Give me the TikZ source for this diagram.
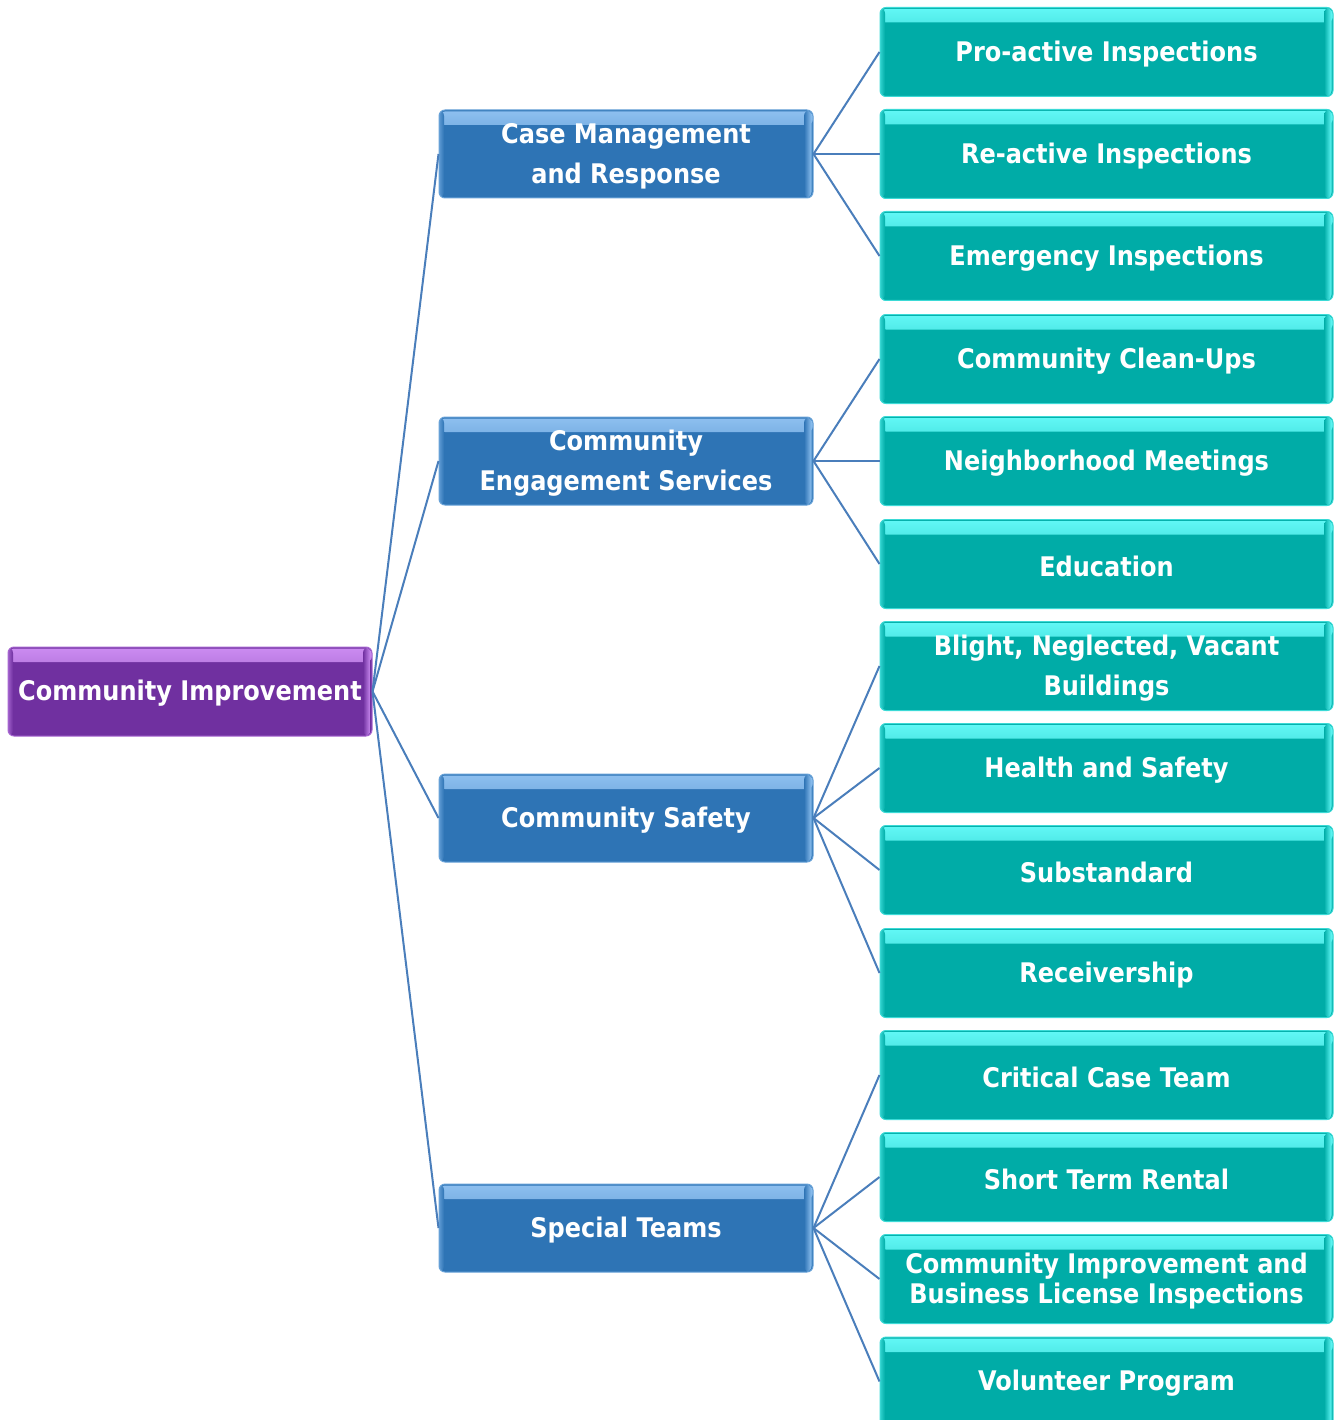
\documentclass[tikz,border=0pt]{standalone}
\usepackage{fontspec}
\newfontfamily\boxfont{DejaVu Sans}[FakeStretch=0.89]
\definecolor{tealmain}{HTML}{00ACA7}
\definecolor{teallight}{HTML}{62F8F6}
\definecolor{bluemain}{HTML}{2E74B5}
\definecolor{bluelight}{HTML}{8EC0F0}
\definecolor{purpmain}{HTML}{7030A0}
\definecolor{purplight}{HTML}{CC8CF2}
\definecolor{linkcol}{HTML}{4A7EBB}
\tikzset{
  bevel/.style 2 args={rectangle, rounded corners=6pt, inner sep=0pt,
    fill=#1, draw=#2!60!#1, line width=1pt,
    path picture={
      \shade[top color=#2, bottom color=#1]
        ([yshift=-1.5pt]path picture bounding box.north west) rectangle
        ([yshift=-15pt]path picture bounding box.north east);
      \shade[left color=#1, right color=#2]
        ([xshift=-9pt]path picture bounding box.north east) rectangle
        ([xshift=-1.5pt]path picture bounding box.south east);
      \shade[left color=#2!50!#1, right color=#1]
        (path picture bounding box.north west) rectangle
        ([xshift=5pt]path picture bounding box.south west);
    }},
  rootbox/.style={bevel={purpmain}{purplight}, minimum width=364pt, minimum height=89pt},
  midbox/.style={bevel={bluemain}{bluelight}, minimum width=374pt, minimum height=88pt},
  leafbox/.style={bevel={tealmain}{teallight}, minimum width=453pt, minimum height=89pt},
  lbl/.style={inner sep=0pt, align=center, text=white, yshift=-2pt,
    font=\boxfont\bfseries\fontsize{27}{40}\selectfont},
  tightlbl/.style={lbl, font=\boxfont\bfseries\fontsize{27}{30}\selectfont},
  link/.style={draw=linkcol, line width=2pt}
}
\begin{document}
\begin{tikzpicture}[x=1pt,y=-1pt]
\useasboundingbox (0,0) rectangle (1335,1420);
\clip (0,0) rectangle (1335,1420);
\node[rootbox] (root) at (190,691.5) {};
\node[midbox] (cm) at (626,154) {};
\node[midbox] (ce) at (626,461) {};
\node[midbox] (cs) at (626,818) {};
\node[midbox] (st) at (626,1228) {};
\node[leafbox] (l1) at (1106.5,52) {};
\node[leafbox] (l2) at (1106.5,154) {};
\node[leafbox] (l3) at (1106.5,256) {};
\node[leafbox] (l4) at (1106.5,359) {};
\node[leafbox] (l5) at (1106.5,461) {};
\node[leafbox] (l6) at (1106.5,564) {};
\node[leafbox] (l7) at (1106.5,666) {};
\node[leafbox] (l8) at (1106.5,768) {};
\node[leafbox] (l9) at (1106.5,870) {};
\node[leafbox] (l10) at (1106.5,973) {};
\node[leafbox] (l11) at (1106.5,1075) {};
\node[leafbox] (l12) at (1106.5,1177) {};
\node[leafbox] (l13) at (1106.5,1279) {};
\node[leafbox] (l14) at (1106.5,1381.5) {};
\node[lbl] (troot) at (root.center) {Community Improvement};
\node[lbl] (tcm) at (cm.center) {Case Management\\and Response};
\node[lbl] (tce) at (ce.center) {Community\\Engagement Services};
\node[lbl] (tcs) at (cs.center) {Community Safety};
\node[lbl] (tst) at (st.center) {Special Teams};
\node[lbl] (t1) at (l1.center) {Pro-active Inspections};
\node[lbl] (t2) at (l2.center) {Re-active Inspections};
\node[lbl] (t3) at (l3.center) {Emergency Inspections};
\node[lbl] (t4) at (l4.center) {Community Clean-Ups};
\node[lbl] (t5) at (l5.center) {Neighborhood Meetings};
\node[lbl] (t6) at (l6.center) {Education};
\node[lbl] (t7) at (l7.center) {Blight, Neglected, Vacant\\Buildings};
\node[lbl] (t8) at (l8.center) {Health and Safety};
\node[lbl] (t9) at (l9.center) {Substandard};
\node[lbl] (t10) at (l10.center) {Receivership};
\node[lbl] (t11) at (l11.center) {Critical Case Team};
\node[lbl] (t12) at (l12.center) {Short Term Rental};
\node[tightlbl] (t13) at (l13.center) {Community Improvement and\\Business License Inspections};
\node[lbl] (t14) at (l14.center) {Volunteer Program};
\foreach \m in {cm,ce,cs,st} \draw[link] (root.east) -- (\m.west);
\foreach \l in {l1,l2,l3} \draw[link] (cm.east) -- (\l.west);
\foreach \l in {l4,l5,l6} \draw[link] (ce.east) -- (\l.west);
\foreach \l in {l7,l8,l9,l10} \draw[link] (cs.east) -- (\l.west);
\foreach \l in {l11,l12,l13,l14} \draw[link] (st.east) -- (\l.west);
\end{tikzpicture}
\end{document}
